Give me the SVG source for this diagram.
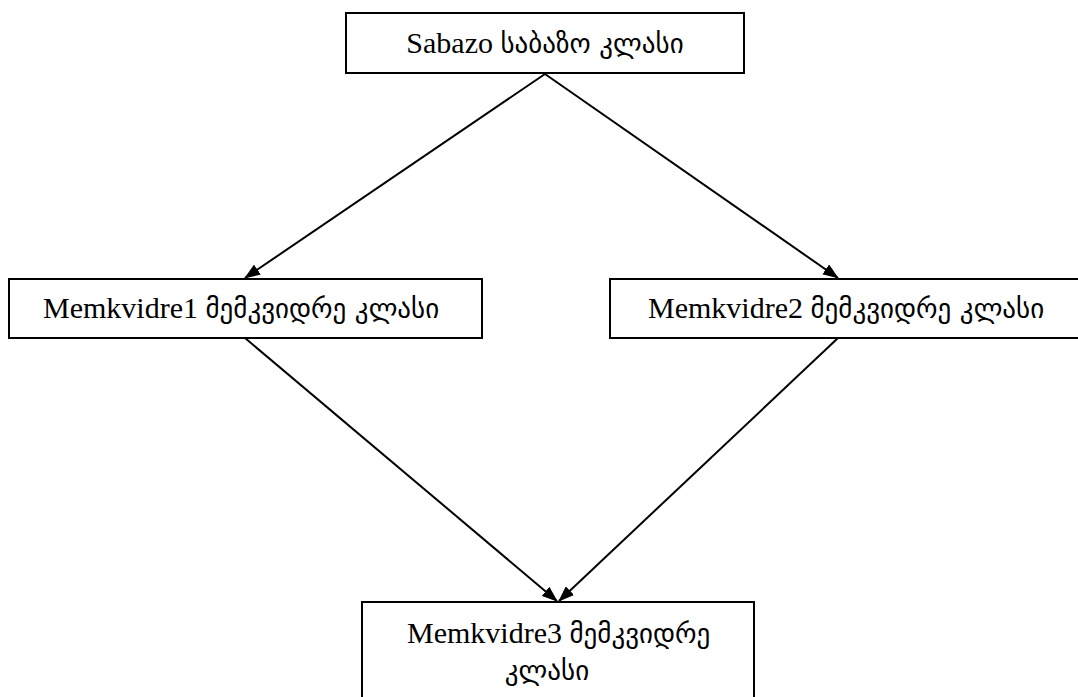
<svg xmlns="http://www.w3.org/2000/svg" width="1078" height="697" viewBox="0 0 1078 697">
<style>
.box{fill:#fff;stroke:#000;stroke-width:2}
.t{font-family:"Liberation Serif","DejaVu Sans",serif;font-size:30px;fill:#000}
.g{font-family:"DejaVu Sans","Noto Sans",sans-serif;font-size:27px}
.c{stroke:#000;stroke-width:2;fill:none;marker-end:url(#ah)}
</style>
<defs>
<marker id="ah" markerWidth="16" markerHeight="12" refX="15" refY="6" orient="auto" markerUnits="userSpaceOnUse" viewBox="0 0 16 12">
<path d="M0,0 L16,6 L0,12 z" fill="#000"/>
</marker>
</defs>
<rect width="1078" height="697" fill="#fff"/>
<g id="connectors">
<line class="c" x1="545" y1="74" x2="245" y2="278"/>
<line class="c" x1="545" y1="74" x2="838" y2="278"/>
<line class="c" x1="245" y1="338" x2="557" y2="601"/>
<line class="c" x1="838" y1="338" x2="559" y2="601"/>
</g>
<g id="n0">
<rect class="box" x="346" y="13" width="398" height="60"/>
<text class="t" x="545" y="53" text-anchor="middle">Sabazo <tspan class="g">საბაზო კლასი</tspan></text>
</g>
<g id="n1">
<rect class="box" x="9" y="279" width="473" height="59"/>
<text class="t" x="43" y="318">Memkvidre1 <tspan class="g">მემკვიდრე კლასი</tspan></text>
</g>
<g id="n2">
<rect class="box" x="610" y="279" width="480" height="59"/>
<text class="t" x="648" y="318">Memkvidre2 <tspan class="g">მემკვიდრე კლასი</tspan></text>
</g>
<g id="n3">
<rect class="box" x="362" y="602" width="392" height="110"/>
<text class="t" x="407" y="643">Memkvidre3 <tspan class="g">მემკვიდრე</tspan></text>
<text class="t g" x="547" y="680" text-anchor="middle">კლასი</text>
</g>
</svg>
